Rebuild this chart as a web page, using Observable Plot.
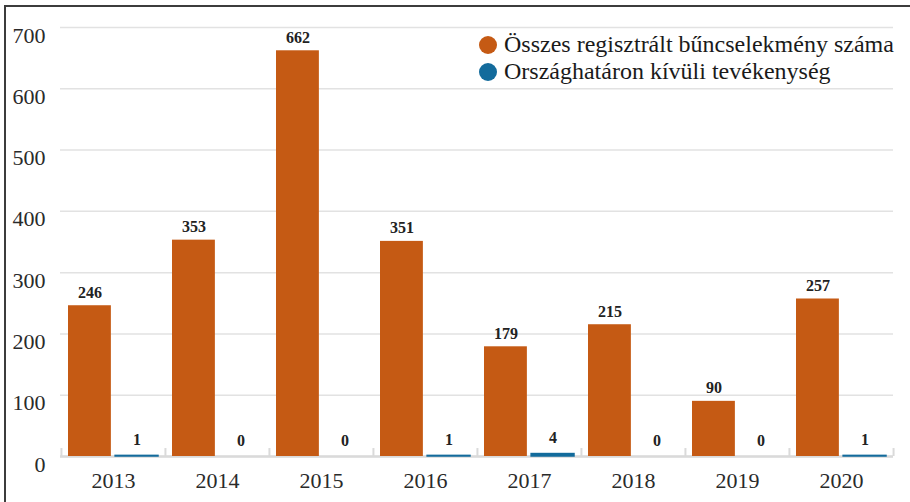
<!DOCTYPE html>
<html>
<head>
<meta charset="utf-8">
<script src="https://cdn.jsdelivr.net/npm/d3@7"></script>
<script src="https://cdn.jsdelivr.net/npm/@observablehq/plot@0.6"></script>
<style>
  body { margin: 0; background: #fff; }
  #wrap { position: relative; width: 910px; height: 502px; overflow: hidden; font-family: "Liberation Serif", "Times New Roman", serif; }
  #border { position: absolute; left: 4px; top: 5px; width: 920px; height: 520px; border-left: 2px solid #3c3c3c; border-top: 2px solid #3c3c3c; pointer-events: none; }
  #legend { position: absolute; left: 479px; top: 31px; font-size: 24px; color: #1a1a1a; line-height: 27px; }
  #legend .item { display: flex; align-items: center; white-space: nowrap; }
  #legend .dot { width: 18px; height: 18px; border-radius: 50%; margin-right: 7px; display: inline-block; }
</style>
</head>
<body>
<div id="wrap">
  <div id="chart"></div>
  <div id="legend"></div>
  <div id="border"></div>
</div>
<script>
const years = ["2013", "2014", "2015", "2016", "2017", "2018", "2019", "2020"];
const totalCrimes = [246, 353, 662, 351, 179, 215, 90, 257];
const abroadCrimes = [1, 0, 0, 1, 4, 0, 0, 1];
const seriesNames = ["Összes regisztrált bűncselekmény száma", "Országhatáron kívüli tevékenység"];
const seriesColors = ["#c55a14", "#136b9c"];
const yTicks = [0, 100, 200, 300, 400, 500, 600, 700];

const totalData = years.map((y, i) => ({year: y, v: totalCrimes[i]}));
const abroadData = years.map((y, i) => ({year: y, v: abroadCrimes[i]}));

const W = 910, H = 502;
const mL = 60, mR = 17;
const band = (W - mL - mR) / years.length;
const barW = 43, outer = 7;
const off = band / 2 - outer - barW / 2;

const chart = Plot.plot({
  width: W,
  height: H,
  marginLeft: mL,
  marginRight: mR,
  marginTop: 27,
  marginBottom: 46,
  style: {fontFamily: "'Liberation Serif', 'Times New Roman', serif", background: "transparent"},
  x: {type: "band", domain: years, padding: 0},
  y: {domain: [0, 700]},
  marks: [
    Plot.gridY(yTicks, {stroke: "#e2e2e2", strokeOpacity: 1, strokeWidth: 1.5}),
    Plot.ruleY([0], {stroke: "#dadada", strokeWidth: 2.5}),
    Plot.ruleX(years, {x: d => d, dx: -band / 2, y1: 0, y2: 13, stroke: "#dadada", strokeWidth: 2}),
    Plot.ruleX(years.slice(-1), {x: d => d, dx: band / 2, y1: 0, y2: 13, stroke: "#dadada", strokeWidth: 2}),
    Plot.barY(totalData, {x: "year", y: "v", fill: seriesColors[0], insetLeft: outer, insetRight: band - outer - barW}),
    Plot.barY(abroadData, {x: "year", y: "v", fill: seriesColors[1], stroke: seriesColors[1], strokeWidth: 1.5,
      strokeOpacity: d => d.v === 0 ? 0.3 : 1, insetLeft: band - outer - barW, insetRight: outer}),
    Plot.text(totalData, {x: "year", y: "v", text: d => String(d.v), dx: -off, dy: -8, lineAnchor: "bottom",
      fontSize: 16, fontWeight: "bold", fill: "#222"}),
    Plot.text(abroadData, {x: "year", y: "v", text: d => String(d.v), dx: off, dy: -11, lineAnchor: "bottom",
      fontSize: 16, fontWeight: "bold", fill: "#222"}),
    Plot.axisY({ticks: yTicks, tickSize: 0, tickPadding: 15, dy: 8, fontSize: 22, fill: "#2a2a2a", label: null}),
    Plot.axisX({tickSize: 0, tickPadding: 16, fontSize: 22, fill: "#2a2a2a", label: null})
  ]
});
document.getElementById("chart").appendChild(chart);

const legend = document.getElementById("legend");
seriesNames.forEach((name, i) => {
  const item = document.createElement("div");
  item.className = "item";
  const dot = document.createElement("span");
  dot.className = "dot";
  dot.style.background = seriesColors[i];
  const label = document.createElement("span");
  label.textContent = name;
  item.appendChild(dot);
  item.appendChild(label);
  legend.appendChild(item);
});
</script>
</body>
</html>
